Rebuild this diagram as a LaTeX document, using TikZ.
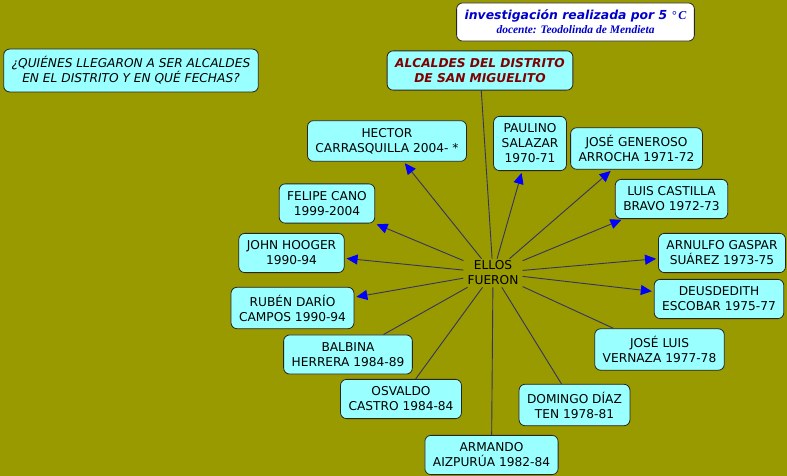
\documentclass[tikz,border=0pt]{standalone}
\usepackage{fontspec}
\setmainfont{DejaVu Sans}
\newfontfamily\serifbi{Liberation Serif}
\usetikzlibrary{arrows.meta}
\definecolor{olivebg}{RGB}{153,153,0}
\definecolor{boxcyan}{RGB}{153,255,255}
\definecolor{linknavy}{RGB}{51,51,102}
\definecolor{tipblue}{RGB}{0,0,255}
\definecolor{titlered}{RGB}{128,0,0}
\definecolor{notablue}{RGB}{0,0,204}
\newcommand{\fsz}{\fontsize{12.2}{15}\selectfont}

\begin{document}
\begin{tikzpicture}[x=1pt, y=-1pt, every node/.style={font=\fsz, align=center},
	box/.style={draw=black!85, line width=0.8pt, fill=boxcyan, rounded corners=6pt, inner xsep=8pt, inner ysep=7.5pt},
	link/.style={draw=linknavy, line width=0.9pt, shorten >=2pt},
	>={Triangle[length=11pt, width=10pt, color=tipblue]}]
	\fill[olivebg] (0,0) rectangle (787,476);
	\node[box, fill=white, text=notablue, font=\fontsize{12.4}{14}\selectfont\bfseries\itshape, inner ysep=7pt, minimum width=229pt] (nota) at (575.5,22)
		{investigación realizada por 5 {\serifbi\fontsize{12}{14}\selectfont °\,C}\\{\serifbi\fontsize{11.5}{14}\selectfont docente: Teodolinda de Mendieta}};
	\node[box, font=\fsz\itshape] (pregunta) at (131,70.5) {¿QUIÉNES LLEGARON A SER ALCALDES\\EN EL DISTRITO Y EN QUÉ FECHAS?};
	\node[box, font=\fsz\bfseries\itshape, text=titlered] (titulo) at (480,70.5) {ALCALDES DEL DISTRITO\\DE SAN MIGUELITO};
	\node[inner xsep=4pt, inner ysep=2pt] (ellos) at (493,273) {ELLOS\\FUERON};
	\node[box] (hector) at (387,141) {HECTOR\\CARRASQUILLA 2004- *};
	\node[box] (paulino) at (530,143.5) {PAULINO\\SALAZAR\\1970-71};
	\node[box] (generoso) at (636.5,148.5) {JOSÉ GENEROSO\\ARROCHA 1971-72};
	\node[box] (felipe) at (327,203.5) {FELIPE CANO\\1999-2004};
	\node[box] (luis) at (671.5,199) {LUIS CASTILLA\\BRAVO 1972-73};
	\node[box] (john) at (291.5,253) {JOHN HOOGER\\1990-94};
	\node[box] (arnulfo) at (722,253) {ARNULFO GASPAR\\SUÁREZ 1973-75};
	\node[box] (ruben) at (292.5,308) {RUBÉN DARÍO\\CAMPOS 1990-94};
	\node[box] (deusdedith) at (719,299) {DEUSDEDITH\\ESCOBAR 1975-77};
	\node[box] (vernaza) at (659.5,349.5) {JOSÉ LUIS\\VERNAZA 1977-78};
	\node[box] (balbina) at (348,354.5) {BALBINA\\HERRERA 1984-89};
	\node[box] (osvaldo) at (401,399) {OSVALDO\\CASTRO 1984-84};
	\node[box] (domingo) at (574.5,405) {DOMINGO DÍAZ\\TEN 1978-81};
	\node[box] (armando) at (491.5,455) {ARMANDO\\AIZPURÚA 1982-84};
	\draw[link, shorten >=0pt] (titulo) -- (ellos);
	\draw[link, ->] (ellos) -- (hector);
	\draw[link, ->] (ellos) -- (paulino);
	\draw[link, ->] (ellos) -- (generoso);
	\draw[link, ->] (ellos) -- (felipe);
	\draw[link, ->] (ellos) -- (luis);
	\draw[link, ->] (ellos) -- (john);
	\draw[link, ->] (ellos) -- (arnulfo);
	\draw[link, ->] (ellos) -- (ruben);
	\draw[link, ->] (ellos) -- (deusdedith);
	\draw[link, shorten >=0pt] (ellos) -- (vernaza);
	\draw[link, shorten >=0pt] (ellos) -- (balbina);
	\draw[link, shorten >=0pt] (ellos) -- (osvaldo);
	\draw[link, shorten >=0pt] (ellos) -- (domingo);
	\draw[link, shorten >=0pt] (ellos) -- (armando);
\end{tikzpicture}
\end{document}
